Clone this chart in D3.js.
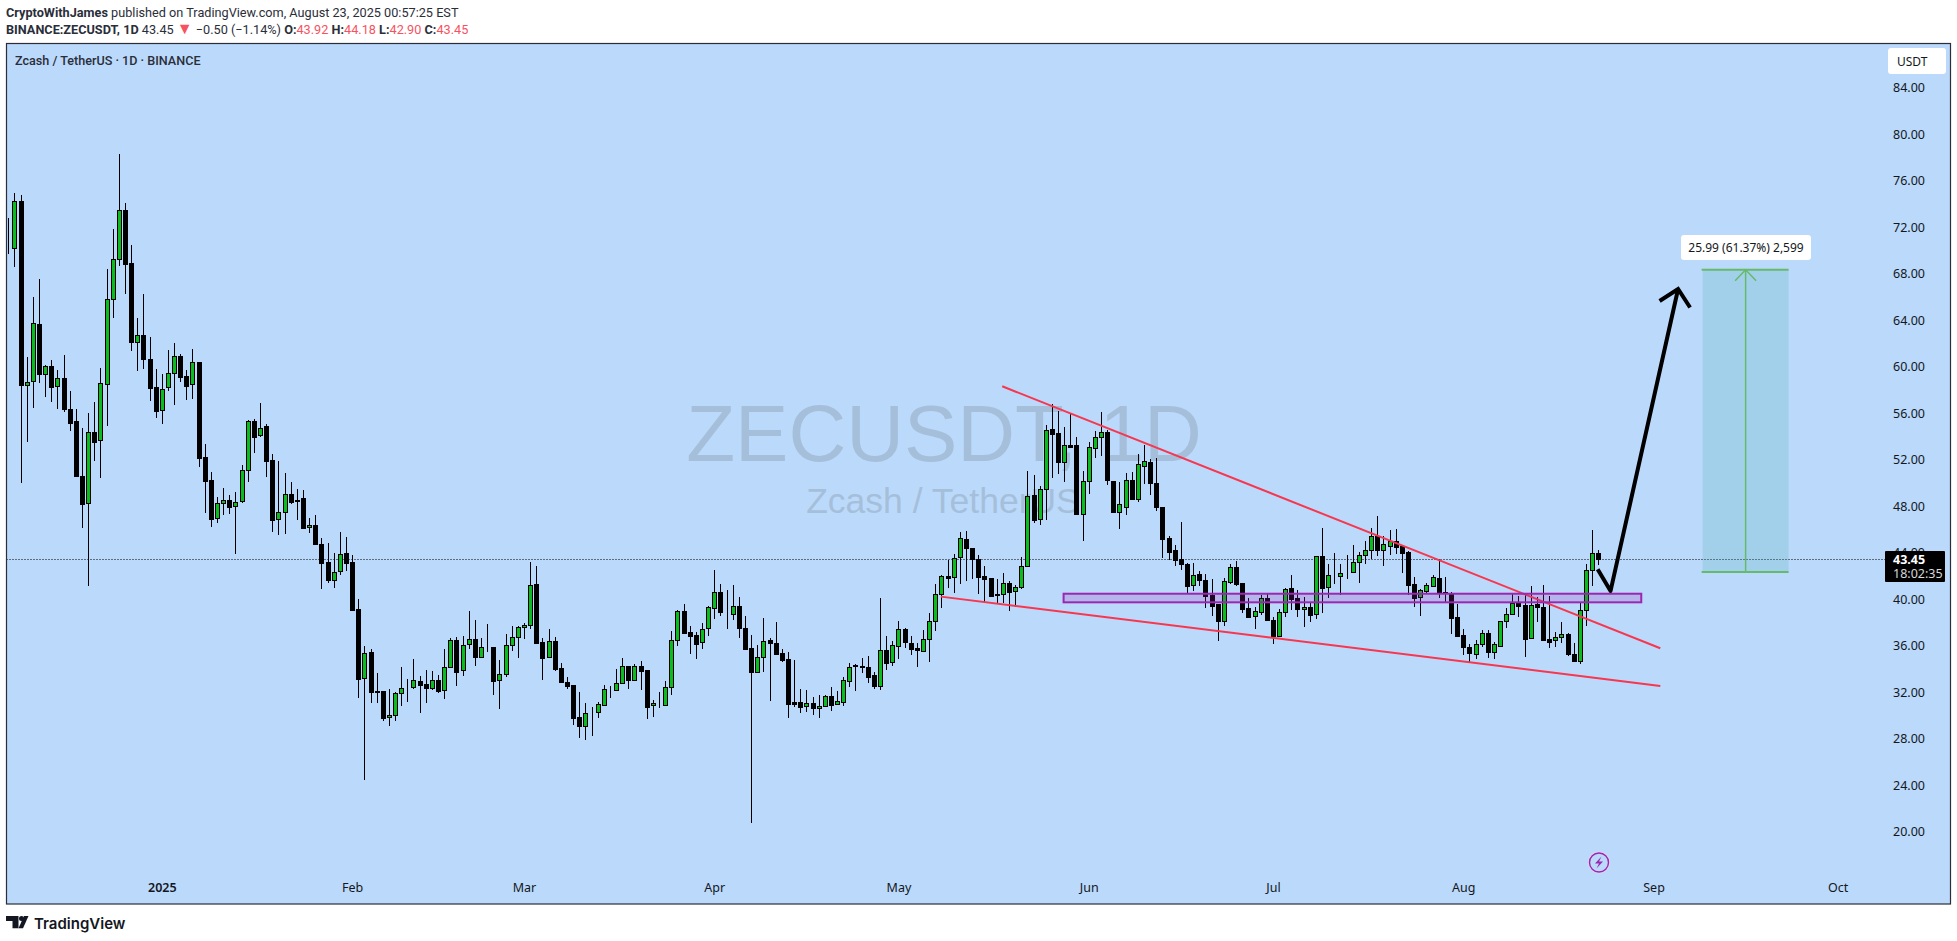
<!DOCTYPE html>
<html>
<head>
<meta charset="utf-8">
<title>ZECUSDT 1D</title>
<script src="https://cdn.jsdelivr.net/npm/d3@7"></script>
<style>
  html, body { margin: 0; padding: 0; background: #fff; }
  svg { display: block; }
  text { font-family: "Noto Sans", sans-serif; }
</style>
</head>
<body>
<svg id="chart" width="1957" height="941"></svg>
<script>
// daily candles, first one is 7 Dec 2024
var firstDay = "2024-12-07";
var opens = [
  70.27,70.22,74.24,58.44,58.73,63.66,59.39,60.05,58.30,58.98,
  56.32,55.32,50.59,48.24,54.34,53.65,58.47,65.78,69.22,73.44,
  68.88,62.08,62.69,60.62,58.21,56.23,58.21,59.42,60.88,59.16,
  58.47,60.36,52.19,50.21,46.95,48.24,48.49,47.98,48.41,51.07,
  55.29,54.08,54.86,51.93,46.86,47.46,49.01,48.41,48.66,46.17,
  46.34,44.71,43.16,41.61,42.39,43.93,43.16,39.12,33.18,35.42,
  32.05,32.06,29.83,30.06,31.89,32.51,32.46,32.92,32.67,32.38,
  33.01,32.15,34.13,36.45,33.87,36.11,36.54,35.05,35.87,35.85,
  33.01,33.53,36.08,36.71,37.57,37.74,41.27,36.28,34.99,36.36,
  34.04,32.84,32.58,29.83,29.11,30.28,30.26,30.92,32.26,32.21,
  32.75,34.21,33.07,34.21,33.87,30.86,31.05,30.92,32.41,36.45,
  38.94,37.14,36.88,36.28,37.48,39.26,40.58,38.88,38.74,39.37,
  37.48,35.76,33.70,34.99,36.45,36.19,35.33,34.82,31.12,31.12,
  30.77,31.03,30.66,30.83,31.63,30.94,31.12,32.98,34.29,34.21,
  34.13,33.44,32.49,35.59,34.56,35.96,37.39,36.22,35.76,35.56,
  36.53,38.08,40.41,41.95,41.87,43.59,45.16,44.36,43.42,41.95,
  41.78,40.41,40.41,41.35,40.66,41.06,42.84,48.92,46.86,49.44,
  54.60,54.25,51.82,53.22,53.22,47.35,50.13,53.02,53.97,54.37,
  50.13,47.46,47.95,50.21,48.64,51.47,51.79,49.96,47.89,45.22,
  44.19,43.42,42.99,41.18,42.13,41.61,40.32,39.57,38.14,41.44,
  42.73,41.35,39.20,38.52,38.92,40.09,38.20,36.85,38.86,40.92,
  40.06,39.12,39.29,38.69,43.67,41.01,42.06,42.01,42.32,42.36,
  43.16,43.76,44.19,45.39,44.25,44.59,44.96,44.56,44.02,41.27,
  40.15,40.72,41.15,41.78,40.58,40.43,38.43,36.88,35.85,35.30,
  36.11,37.05,35.42,35.99,38.08,38.69,39.63,39.46,36.62,39.55,
  39.29,36.54,36.45,36.71,36.97,35.25,34.64,39.03,42.47,43.92
];
var highs = [
  72.80,74.93,74.75,60.82,65.98,67.53,60.13,60.56,59.70,60.99,
  57.90,56.32,54.71,55.98,56.95,59.87,68.39,71.83,78.28,74.04,
  70.45,64.17,66.24,62.54,59.79,59.36,61.42,62.02,61.08,59.70,
  61.48,60.36,53.34,50.93,48.75,49.55,48.95,49.18,51.50,55.40,
  55.49,56.86,55.03,52.48,51.88,50.84,50.07,49.47,49.38,46.97,
  47.20,45.25,44.82,43.96,45.77,45.34,43.79,40.01,35.96,35.68,
  33.61,32.06,32.26,31.98,34.13,33.12,34.82,33.35,33.90,33.81,
  33.44,35.68,36.62,36.71,36.79,38.97,38.20,36.65,37.86,35.85,
  34.76,36.97,37.65,37.65,37.91,43.16,42.81,36.62,37.42,36.71,
  34.47,33.27,32.58,32.01,31.06,30.72,31.15,32.61,32.49,33.98,
  34.90,34.24,34.39,34.64,33.93,31.32,32.01,32.92,37.22,39.06,
  39.58,37.65,37.14,37.94,39.43,42.47,41.27,40.78,41.21,40.18,
  38.51,36.88,36.05,38.37,36.62,38.03,35.68,35.45,34.76,32.26,
  32.18,31.60,31.75,31.75,32.41,32.12,33.27,34.47,34.41,34.90,
  35.10,33.75,40.06,36.82,36.42,38.08,37.54,36.82,36.19,37.34,
  38.83,41.29,42.04,43.36,43.87,45.74,45.82,44.36,43.76,42.84,
  41.78,41.70,42.21,41.52,41.21,43.64,51.01,50.64,49.69,54.97,
  56.78,56.18,54.83,56.03,53.94,51.04,53.51,54.46,56.09,54.54,
  50.13,50.07,50.82,50.90,52.51,53.25,52.02,52.10,47.89,45.43,
  44.65,46.60,43.13,43.07,42.39,42.16,41.70,39.57,41.78,43.02,
  43.30,41.35,40.06,39.34,40.32,40.52,38.46,39.12,40.92,42.07,
  40.75,40.18,39.63,43.67,46.11,43.02,43.93,43.02,43.79,44.65,
  44.05,44.99,46.11,47.14,45.39,45.91,46.03,44.65,44.13,41.87,
  40.87,41.35,42.04,43.42,41.87,40.64,39.57,37.40,36.11,36.48,
  37.31,37.34,36.28,38.08,39.20,40.43,40.23,40.32,41.09,40.15,
  41.21,40.23,37.17,38.03,37.05,36.22,39.63,43.02,45.94,44.18
];
var lows = [
  69.68,68.59,50.01,53.54,56.46,58.61,57.41,56.98,56.32,56.12,
  54.49,50.53,46.14,41.15,51.91,50.44,54.91,64.20,68.68,66.27,
  61.36,59.65,59.82,57.07,55.60,55.09,57.92,56.72,58.70,57.15,
  57.23,51.39,47.43,46.23,46.57,47.26,47.35,43.91,48.24,50.10,
  52.59,53.97,50.53,45.80,45.54,45.62,48.21,46.83,46.06,45.71,
  44.68,40.89,41.35,40.98,42.10,42.44,39.09,31.52,24.47,31.09,
  31.09,29.54,29.11,29.54,30.83,31.17,32.29,30.23,31.09,32.18,
  31.95,31.43,34.10,32.55,33.41,35.70,34.27,34.96,35.45,31.75,
  30.57,33.27,35.56,34.96,36.59,37.40,36.25,33.07,34.96,33.84,
  32.81,32.29,29.20,28.08,27.91,28.25,29.80,30.83,31.52,32.12,
  32.72,32.29,32.98,32.21,29.71,29.88,30.66,30.83,31.78,35.99,
  37.08,35.27,34.87,35.73,36.85,38.29,38.57,37.42,38.23,36.68,
  35.59,20.77,33.61,33.73,31.26,35.25,34.62,29.80,30.74,30.23,
  30.31,30.06,29.80,30.71,30.40,30.89,30.77,32.44,32.09,33.61,
  32.81,32.26,32.21,33.93,34.27,34.81,35.79,35.22,34.18,35.47,
  34.61,37.28,39.23,40.92,40.55,41.29,41.58,41.72,40.46,39.77,
  40.23,39.69,39.63,39.00,39.34,40.84,42.78,46.57,46.37,46.80,
  50.41,50.76,50.10,52.96,47.31,45.02,49.07,52.13,52.33,49.84,
  47.40,46.05,47.26,48.58,48.38,49.93,48.98,47.60,43.53,43.33,
  42.87,42.50,40.49,40.69,41.15,39.26,38.57,36.42,37.71,41.29,
  41.15,38.83,38.37,37.45,38.66,38.23,36.16,36.74,38.46,39.09,
  38.49,37.60,38.03,38.28,38.83,40.12,41.30,40.38,41.75,42.27,
  41.41,43.04,43.47,43.70,42.87,43.82,43.88,42.27,40.38,39.35,
  38.57,40.46,41.01,40.12,39.69,37.02,36.71,35.22,34.61,34.87,
  35.91,34.96,34.87,35.93,37.54,38.66,38.46,35.04,36.59,38.06,
  36.45,35.82,35.91,36.25,35.13,34.64,34.44,37.71,41.12,42.90
];
var closes = [
  70.25,74.24,58.44,58.64,63.72,59.39,60.02,58.27,58.98,56.38,
  55.17,50.62,48.21,54.34,53.54,58.56,65.78,69.22,73.44,68.85,
  62.08,62.69,60.62,58.18,56.21,58.10,59.42,60.88,59.13,58.35,
  60.36,52.16,50.18,46.92,48.24,48.49,47.95,48.38,51.07,55.29,
  53.97,54.74,51.91,46.83,47.46,49.01,48.38,48.55,46.14,46.34,
  44.77,43.13,41.67,42.36,43.91,43.13,39.09,33.15,35.39,32.03,
  32.03,29.80,30.06,31.89,32.38,32.49,33.01,32.64,32.38,33.01,
  32.09,34.13,36.45,33.76,36.08,36.54,35.05,35.85,35.85,32.98,
  33.53,36.02,36.71,37.57,37.74,41.18,36.25,34.96,36.36,34.01,
  32.87,32.55,29.80,29.11,30.23,30.26,30.95,32.24,32.24,32.75,
  34.21,33.07,34.21,33.84,30.74,31.03,31.03,32.41,36.45,38.94,
  37.11,36.85,36.16,37.40,39.29,40.58,38.86,38.86,39.37,37.48,
  35.73,33.76,34.99,36.36,36.25,35.30,34.79,31.00,31.00,30.74,
  31.03,30.66,30.83,31.63,30.92,31.20,33.01,34.18,34.27,34.13,
  33.32,32.49,35.59,34.53,36.02,37.39,36.28,35.73,35.59,36.53,
  38.08,40.41,41.95,41.84,43.50,45.22,44.42,43.47,41.92,41.75,
  40.29,40.32,41.35,40.63,41.06,42.87,48.89,46.83,49.44,54.51,
  54.23,51.82,53.22,53.11,47.35,50.13,53.05,53.91,54.34,50.27,
  47.49,48.15,50.21,48.64,51.59,51.85,50.01,47.95,45.20,44.08,
  43.39,43.02,41.15,42.04,41.61,40.29,39.43,38.14,41.52,42.73,
  41.32,39.17,38.49,38.95,40.06,38.23,36.85,38.86,40.84,40.03,
  39.17,39.29,38.66,43.67,40.98,42.04,42.04,42.21,42.30,43.16,
  43.76,44.19,45.39,44.25,44.71,44.96,44.51,43.99,41.24,40.12,
  40.75,41.18,41.87,40.64,40.49,38.40,36.82,35.91,35.39,36.11,
  37.05,35.48,36.11,38.08,38.69,39.63,39.43,36.59,39.46,39.29,
  36.51,36.34,36.71,36.97,35.30,34.64,39.03,42.47,43.93,43.45
];

var priceTicks = [84,80,76,72,68,64,60,56,52,48,44,40,36,32,28,24,20];
var timeTicks = ["2025-01-01","2025-02-01","2025-03-01","2025-04-01","2025-05-01","2025-06-01","2025-07-01","2025-08-01","2025-09-01","2025-10-01"];
var timeLabels = ["2025","Feb","Mar","Apr","May","Jun","Jul","Aug","Sep","Oct"];

// drawings, as [date, price]
var upperWedge = [["2025-05-17.9",58.30],["2025-09-02.1",35.77]];
var lowerWedge = [["2025-05-07.9",40.21],["2025-09-02.1",32.53]];
var zoneDates = ["2025-05-27.9","2025-08-30"];
var zonePrices = [40.46,39.72];
var arrowPath = [["2025-08-22.9",42.56],["2025-08-25",40.70],["2025-09-05",66.67]];
var rangeDates = ["2025-09-09","2025-09-23"];
var rangeMid = "2025-09-16";
var rangePrices = [68.32,42.33];
var lastPrice = 43.45;

var W = 1957, H = 941;
var frame = {left: 6.5, right: 1950.5, top: 43.5, bottom: 904};

function day(s) {
  // "2025-05-17.9" -> fractional day
  var p = s.split(".");
  var d = d3.utcParse("%Y-%m-%d")(p[0]);
  return p[1] ? new Date(+d + 86400000 * (+("0." + p[1]))) : d;
}

var dates = opens.map(function(o, i) { return d3.utcDay.offset(day(firstDay), i); });

var x = d3.scaleUtc()
  .domain([day("2025-01-01"), day("2025-10-01")])
  .range([161.8, 1837.7]);
var y = d3.scaleLinear().domain([84, 20]).range([87.5, 831.6]);

var svg = d3.select("#chart");

svg.append("rect").attr("x", frame.left).attr("y", frame.top)
  .attr("width", frame.right - frame.left).attr("height", frame.bottom - frame.top)
  .attr("fill", "#bbd9fb");

svg.append("clipPath").attr("id", "plot").append("rect")
  .attr("x", frame.left).attr("y", frame.top)
  .attr("width", frame.right - frame.left).attr("height", frame.bottom - frame.top);

// watermark
svg.append("text").attr("x", 944).attr("y", 461).attr("text-anchor", "middle")
  .style("font-family", '"Liberation Sans", sans-serif').style("font-size", "80px")
  .attr("fill", "#a5bfda").text("ZECUSDT, 1D");
svg.append("text").attr("x", 943).attr("y", 513).attr("text-anchor", "middle")
  .style("font-family", '"Liberation Sans", sans-serif').style("font-size", "35.5px")
  .attr("fill", "#a5bfda").text("Zcash / TetherUS");

// axes
var yAxis = d3.axisRight(y).tickValues(priceTicks).tickFormat(d3.format(".2f")).tickSize(0).tickPadding(0);
var gy = svg.append("g").attr("transform", "translate(1893,0)").call(yAxis);
var xAxis = d3.axisBottom(x).tickValues(timeTicks.map(day))
  .tickFormat(function(d, i) { return timeLabels[i]; }).tickSize(0).tickPadding(0);
var gx = svg.append("g").attr("transform", "translate(0,883)").call(xAxis);
gy.select(".domain").remove();
gx.select(".domain").remove();
svg.selectAll(".tick text").attr("fill", "#131722").style("font-size", "12.5px").style("font-family", '"Noto Sans", sans-serif');
gx.selectAll(".tick text").filter(function(d, i) { return i == 0; }).style("font-weight", "600");

// last price line
svg.append("line").attr("x1", frame.left).attr("x2", 1885)
  .attr("y1", Math.round(y(lastPrice)) + 0.5).attr("y2", Math.round(y(lastPrice)) + 0.5)
  .attr("stroke", "#000").attr("stroke-dasharray", "1 2");

// candles
var candles = svg.append("g").attr("clip-path", "url(#plot)");
var bars = candles.selectAll("g").data(dates).enter().append("g");
bars.append("line")
  .attr("x1", function(d) { return Math.round(x(d)) + 0.5; })
  .attr("x2", function(d) { return Math.round(x(d)) + 0.5; })
  .attr("y1", function(d, i) { return y(highs[i]); })
  .attr("y2", function(d, i) { return y(lows[i]); })
  .attr("stroke", "#000").attr("stroke-width", 1).attr("shape-rendering", "crispEdges");
bars.append("rect")
  .attr("x", function(d) { return Math.round(x(d)) - 1.5; })
  .attr("width", 4)
  .attr("y", function(d, i) { return Math.round(y(Math.max(opens[i], closes[i]))) + 0.5; })
  .attr("height", function(d, i) { return Math.max(0, Math.round(y(Math.min(opens[i], closes[i]))) - Math.round(y(Math.max(opens[i], closes[i])))); })
  .attr("fill", function(d, i) { return closes[i] > opens[i] ? "#0cbb1e" : "#000"; })
  .attr("stroke", "#000").attr("stroke-width", 1).attr("shape-rendering", "crispEdges");

// wedge lines
var line = d3.line().x(function(d) { return x(day(d[0])); }).y(function(d) { return y(d[1]); });
[upperWedge, lowerWedge].forEach(function(w) {
  svg.append("path").attr("d", line(w)).attr("fill", "none")
    .attr("stroke", "#f7374f").attr("stroke-width", 2);
});

// support zone
svg.append("rect")
  .attr("x", x(day(zoneDates[0]))).attr("width", x(day(zoneDates[1])) - x(day(zoneDates[0])))
  .attr("y", y(zonePrices[0])).attr("height", y(zonePrices[1]) - y(zonePrices[0]))
  .attr("fill", "#9c27b0").attr("fill-opacity", 0.2)
  .attr("stroke", "#9c27b0").attr("stroke-width", 2);

// black arrow
svg.append("path").attr("d", line(arrowPath)).attr("fill", "none")
  .attr("stroke", "#000").attr("stroke-width", 4).attr("stroke-linejoin", "round");
var tip = arrowPath[2];
var tx = x(day(tip[0])), ty = y(tip[1]);
svg.append("path").attr("d", d3.line()([[tx - 18.5, ty + 12], [tx, ty], [tx + 12, ty + 18.5]]))
  .attr("fill", "none").attr("stroke", "#000").attr("stroke-width", 4);

// price range tool
var rl = x(day(rangeDates[0])), rr = x(day(rangeDates[1])), rm = x(day(rangeMid));
var rt = y(rangePrices[0]), rb = y(rangePrices[1]);
svg.append("rect").attr("x", rl).attr("y", rt).attr("width", rr - rl).attr("height", rb - rt)
  .attr("fill", "#43b1ab").attr("fill-opacity", 0.2);
[rt, rb].forEach(function(v) {
  svg.append("line").attr("x1", rl - 1).attr("x2", rr).attr("y1", v).attr("y2", v)
    .attr("stroke", "#66bb6a").attr("stroke-width", 2);
});
svg.append("line").attr("x1", rm).attr("x2", rm).attr("y1", rt).attr("y2", rb)
  .attr("stroke", "#66bb6a").attr("stroke-width", 1.5);
svg.append("path").attr("d", d3.line()([[rm - 10.5, rt + 11], [rm, rt], [rm + 10.5, rt + 11]]))
  .attr("fill", "none").attr("stroke", "#66bb6a").attr("stroke-width", 1.5);
svg.append("rect").attr("x", 1681).attr("y", 235).attr("width", 130).attr("height", 25)
  .attr("rx", 3).attr("fill", "#fff");
svg.append("text").attr("x", 1746).attr("y", 251.5).attr("text-anchor", "middle")
  .style("font-size", "12px").attr("fill", "#131722").text("25.99 (61.37%) 2,599");

// currency box
svg.append("rect").attr("x", 1888).attr("y", 48).attr("width", 58).attr("height", 26)
  .attr("rx", 3).attr("fill", "#fff");
svg.append("text").attr("x", 1897).attr("y", 66).style("font-size", "12px")
  .attr("fill", "#131722").text("USDT");

// last price label
svg.append("rect").attr("x", 1885).attr("y", 551).attr("width", 60).attr("height", 31)
  .attr("rx", 1).attr("fill", "#000");
svg.append("text").attr("x", 1893).attr("y", 564).style("font-size", "12.5px").style("font-weight", "700")
  .attr("fill", "#fff").text(d3.format(".2f")(lastPrice));
svg.append("text").attr("x", 1893).attr("y", 578).style("font-size", "12.5px")
  .attr("fill", "#d8d8d8").text("18:02:35");

// lightning icon
svg.append("circle").attr("cx", 1599).attr("cy", 862.5).attr("r", 11).attr("fill", "#e1d4f0");
svg.append("circle").attr("cx", 1599).attr("cy", 862.5).attr("r", 9.5).attr("fill", "#bbd9fb")
  .attr("stroke", "#9c27b0").attr("stroke-width", 1.4);
svg.append("path").attr("d", "M1601.5 856.5L1595 863.5H1599L1596.5 868.5L1603 861.5H1599Z").attr("fill", "#9c27b0");

// frame
svg.append("rect").attr("x", frame.left).attr("y", frame.top)
  .attr("width", frame.right - frame.left).attr("height", frame.bottom - frame.top)
  .attr("fill", "none").attr("stroke", "#2a2e39").attr("stroke-width", 1.2);

// header
var dark = "#2a2e39", red = "#f7525f";
var h1 = svg.append("text").attr("x", 6).attr("y", 17).style("font-family", "Roboto, sans-serif").style("font-size", "12.7px").attr("fill", dark);
h1.append("tspan").style("font-weight", "700").text("CryptoWithJames");
h1.append("tspan").text(" published on TradingView.com, August 23, 2025 00:57:25 EST");

var h2 = svg.append("text").attr("x", 6).attr("y", 34).style("font-family", "Roboto, sans-serif").style("font-size", "12.7px").attr("fill", dark);
h2.append("tspan").style("font-weight", "700").text("BINANCE:ZECUSDT, 1D");
h2.append("tspan").text(" 43.45 ");
h2.append("tspan").attr("fill", red).style("font-size", "16px").text("▼");
h2.append("tspan").text(" −0.50 (−1.14%) ");
[["O:","43.92"],["H:","44.18"],["L:","42.90"],["C:","43.45"]].forEach(function(p) {
  h2.append("tspan").style("font-weight", "700").text(" " + p[0]);
  h2.append("tspan").attr("fill", red).text(p[1]);
});

svg.append("text").attr("x", 15).attr("y", 65).style("font-family", "Roboto, sans-serif").style("font-size", "12.6px").style("font-weight", "500")
  .attr("fill", dark).text("Zcash / TetherUS · 1D · BINANCE");

// footer logo
var logo = svg.append("g").attr("fill", "#131722");
logo.append("path").attr("d", "M6 916H18.5V928.3H12.5V921H6Z");
logo.append("circle").attr("cx", 21.5).attr("cy", 918.5).attr("r", 2.5);
logo.append("path").attr("d", "M24 916H28.5L23 928.3H18.5Z");
svg.append("text").attr("x", 34).attr("y", 928.5).style("font-family", "Inter, sans-serif")
  .style("font-size", "15px").style("font-weight", "600").attr("fill", "#131722").text("TradingView");
</script>
</body>
</html>
